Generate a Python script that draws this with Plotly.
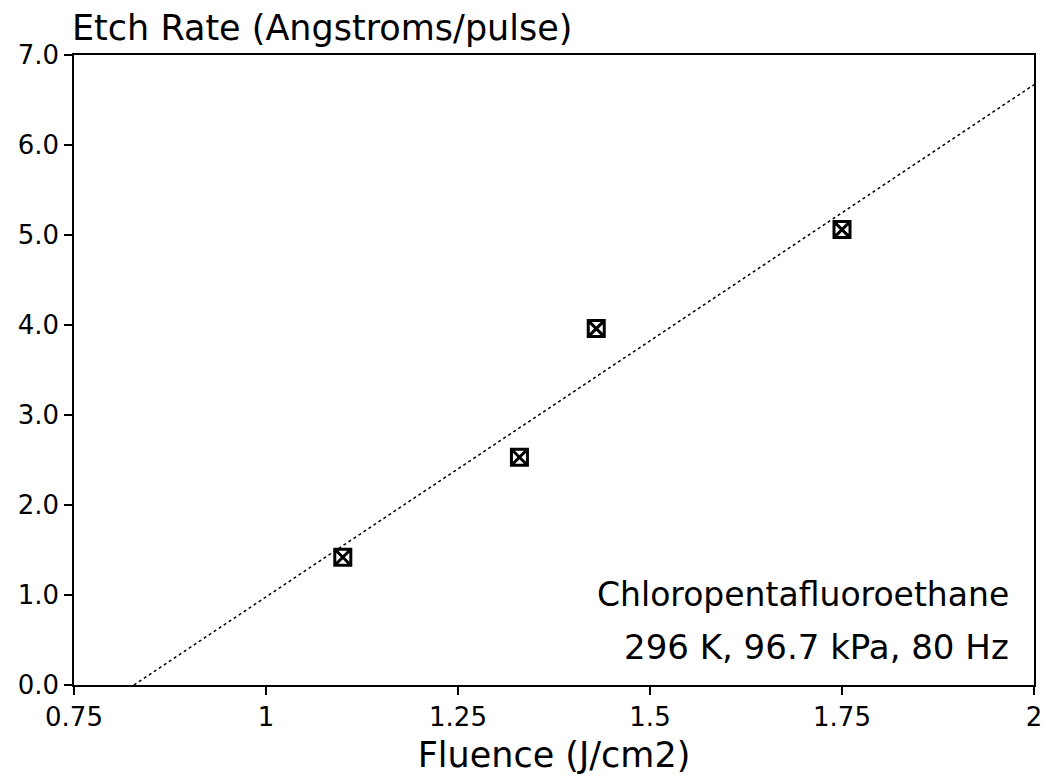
import plotly.graph_objects as go

# Data
fluence = [1.10, 1.33, 1.43, 1.75]
etch_rate = [1.42, 2.53, 3.96, 5.06]
fit_x = [0.828, 2.0]
fit_y = [0.0, 6.67]
x_tickvals = [0.75, 1.0, 1.25, 1.5, 1.75, 2.0]
x_ticktext = ["0.75", "1", "1.25", "1.5", "1.75", "2"]
y_tickvals = [0, 1, 2, 3, 4, 5, 6, 7]
y_ticktext = ["0.0", "1.0", "2.0", "3.0", "4.0", "5.0", "6.0", "7.0"]

FONT = "DejaVu Sans"

fig = go.Figure()
fig.add_trace(go.Scatter(
    x=fit_x, y=fit_y, mode="lines",
    line=dict(color="black", width=1.5, dash="dot"),
    showlegend=False, hoverinfo="skip"))
fig.add_trace(go.Scatter(
    x=fluence, y=etch_rate, mode="markers",
    marker=dict(symbol="square-x-open", size=16, color="black",
                line=dict(color="black", width=3)),
    showlegend=False))

axis_common = dict(
    showgrid=False, zeroline=False, showline=True, linecolor="black",
    linewidth=1.5, mirror=True, ticks="outside", ticklen=8, tickwidth=1.5,
    tickcolor="black", automargin=False,
    tickfont=dict(family=FONT, size=26, color="black"))

fig.update_layout(
    width=1044, height=782,
    margin=dict(l=74, r=10, t=55, b=97),
    plot_bgcolor="white", paper_bgcolor="white",
    font=dict(family=FONT, color="black"),
    xaxis=dict(range=[0.75, 2.0], tickmode="array", tickvals=x_tickvals,
               ticktext=x_ticktext,
               title=dict(text="Fluence (J/cm2)",
                          font=dict(family=FONT, size=35, color="black"),
                          standoff=12),
               **axis_common),
    yaxis=dict(range=[0, 7], tickmode="array", tickvals=y_tickvals,
               ticktext=y_ticktext, **axis_common),
    annotations=[
        dict(text="Etch Rate (Angstroms/pulse)", xref="paper", yref="paper",
             x=-0.004, y=1.0, xanchor="left", yanchor="bottom", yshift=5,
             showarrow=False, font=dict(family=FONT, size=35, color="black")),
        dict(text="Chloropentafluoroethane",
             xref="paper", yref="paper", x=0.976, y=0.143,
             xanchor="right", yanchor="middle",
             showarrow=False,
             font=dict(family=FONT, size=33, color="black")),
        dict(text="296 K, 96.7 kPa, 80 Hz",
             xref="paper", yref="paper", x=0.976, y=0.060,
             xanchor="right", yanchor="middle",
             showarrow=False,
             font=dict(family=FONT, size=34, color="black")),
    ],
)

# remove the default page margin so the figure sits at the window's corner
fig.write_html(
    "out.html",
    config={"displayModeBar": False},
    post_script="document.body.style.margin='0';document.body.style.overflow='hidden';")
